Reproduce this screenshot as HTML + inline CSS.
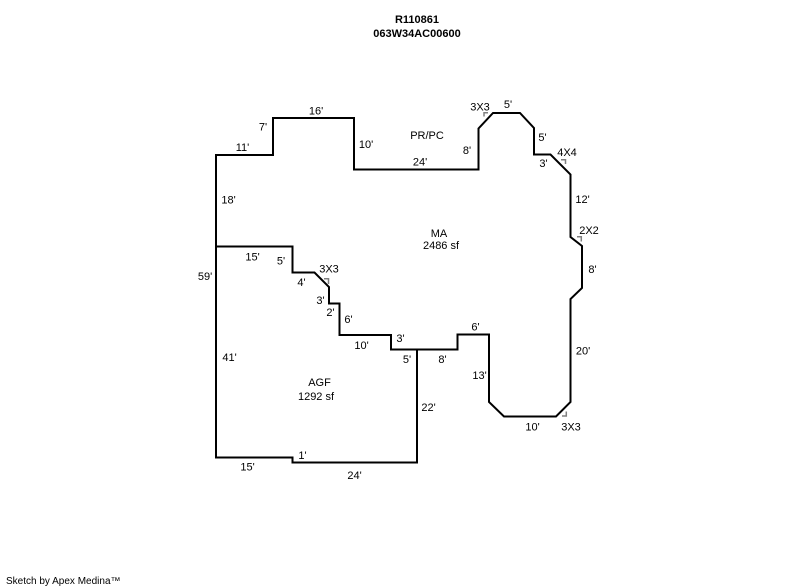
<!DOCTYPE html>
<html>
<head>
<meta charset="utf-8">
<style>
  html, body { margin: 0; padding: 0; background: #fff; }
  body { width: 800px; height: 587px; overflow: hidden; }
  svg { display: block; }
  text { font-family: "Liberation Sans", Arial, sans-serif; font-size: 11px; fill: #000; }
</style>
</head>
<body>
<svg width="800" height="587" viewBox="0 0 800 587" xmlns="http://www.w3.org/2000/svg">
  <!-- Title -->
  <text x="417" y="23" text-anchor="middle" font-weight="bold">R110861</text>
  <text x="417" y="37" text-anchor="middle" font-weight="bold">063W34AC00600</text>

  <!-- Main outline (MA) -->
  <polyline fill="none" stroke="#000" stroke-width="2" stroke-linejoin="miter"
    points="216,246.5 216,155 273,155 273,118 354,118 354,169.5 478.5,169.5 478.5,128.5 493,113 520,113 534,128 534,154.5 550.5,154.5 570.5,174.5 570.5,237 582,246 582,288 570.5,299 570.5,402 556,416.5 504,416.5 489,402 489,334.5 457.5,334.5 457.5,349.5 391,349.5 391,335 339.5,335 339.5,303.5 329,303.5 329,287 314.5,272.5 292.5,272.5 292.5,246.5 216,246.5"/>

  <!-- AGF outline -->
  <polyline fill="none" stroke="#000" stroke-width="2" stroke-linejoin="miter"
    points="216,246.5 216,457.5 292.5,457.5 292.5,462.5 417,462.5 417,349.5"/>

  <!-- Grey corner marks -->
  <g fill="none" stroke="#808080" stroke-width="1.5">
    <polyline points="484,116.5 484,112.8 488,112.8"/>
    <polyline points="561,159.8 565.5,159.8 565.5,164"/>
    <polyline points="577,236.8 581.3,236.8 581.3,241.5"/>
    <polyline points="324,278.8 328.5,278.8 328.5,284"/>
    <polyline points="562,416 566.3,416 566.3,411.5"/>
  </g>

  <!-- Labels -->
  <g text-anchor="middle">
    <text x="316" y="114.5">16'</text>
    <text x="263" y="130.5">7'</text>
    <text x="242.5" y="151">11'</text>
    <text x="366" y="148">10'</text>
    <text x="427" y="139">PR/PC</text>
    <text x="420" y="165.5">24'</text>
    <text x="467" y="154">8'</text>
    <text x="480" y="110.5">3X3</text>
    <text x="508" y="108">5'</text>
    <text x="542.5" y="141">5'</text>
    <text x="567" y="156">4X4</text>
    <text x="543.5" y="167">3'</text>
    <text x="582.5" y="203">12'</text>
    <text x="589" y="234">2X2</text>
    <text x="592.5" y="273">8'</text>
    <text x="228.5" y="203.5">18'</text>
    <text x="439" y="237">MA</text>
    <text x="441" y="249">2486 sf</text>
    <text x="252.5" y="260.5">15'</text>
    <text x="281" y="264.5">5'</text>
    <text x="205" y="280">59'</text>
    <text x="329" y="272.5">3X3</text>
    <text x="301.5" y="286">4'</text>
    <text x="320.5" y="304">3'</text>
    <text x="330.5" y="316">2'</text>
    <text x="348.5" y="323">6'</text>
    <text x="361.5" y="349">10'</text>
    <text x="400.5" y="342">3'</text>
    <text x="475.5" y="330.5">6'</text>
    <text x="407" y="363">5'</text>
    <text x="442.5" y="363">8'</text>
    <text x="229.5" y="361">41'</text>
    <text x="479.5" y="379">13'</text>
    <text x="583" y="354.5">20'</text>
    <text x="319.5" y="386">AGF</text>
    <text x="316" y="400">1292 sf</text>
    <text x="428.5" y="411">22'</text>
    <text x="532.5" y="430.5">10'</text>
    <text x="571" y="430.5">3X3</text>
    <text x="302.5" y="459">1'</text>
    <text x="247.5" y="470.5">15'</text>
    <text x="354.5" y="479">24'</text>
  </g>

  <!-- Footer -->
  <text x="6" y="584" style="font-size:10px">Sketch by Apex Medina™</text>
</svg>
</body>
</html>
